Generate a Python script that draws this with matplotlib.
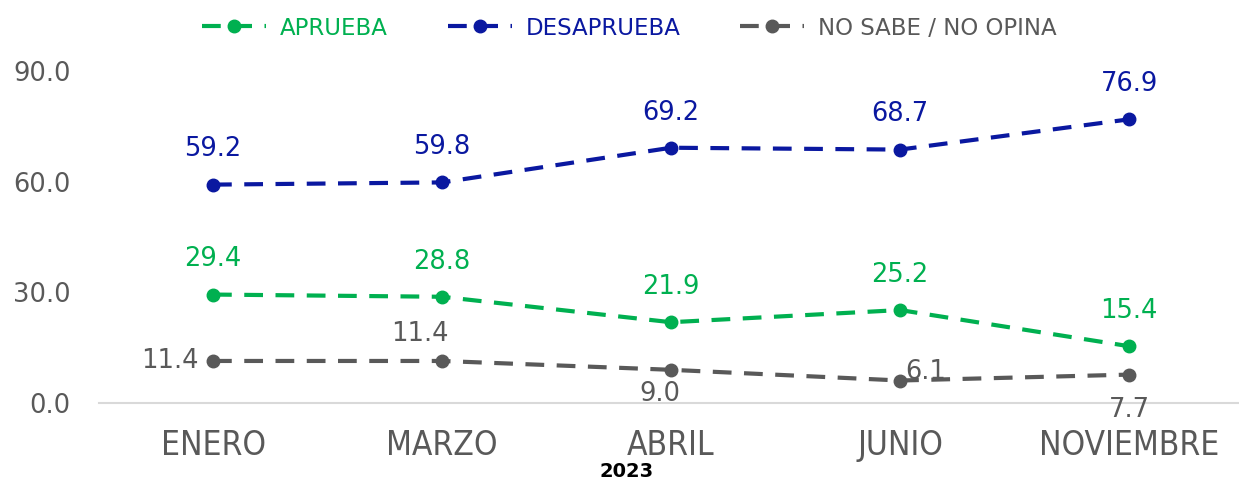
import matplotlib.pyplot as plt

# Datos de la encuesta 2023
meses = ['ENERO', 'MARZO', 'ABRIL', 'JUNIO', 'NOVIEMBRE']
aprueba = [29.4, 28.8, 21.9, 25.2, 15.4]
desaprueba = [59.2, 59.8, 69.2, 68.7, 76.9]
no_sabe = [11.4, 11.4, 9.0, 6.1, 7.7]

verde = '#00B050'
azul = '#0A18A0'
gris = '#595959'

fig = plt.figure(figsize=(12.39, 4.83), dpi=100)
ax = fig.add_axes([0.0795, 0.1656, 0.9205, 0.6874])

x = list(range(len(meses)))
estilo = dict(lw=3.0, dashes=(4.5, 3), marker='o', markersize=9)
ax.plot(x, aprueba, color=verde, label='APRUEBA', **estilo)
ax.plot(x, desaprueba, color=azul, label='DESAPRUEBA', **estilo)
ax.plot(x, no_sabe, color=gris, label='NO SABE / NO OPINA', **estilo)

# Etiquetas de valores
for i in x:
    ax.annotate(f'{aprueba[i]:.1f}', (i, aprueba[i]), xytext=(0, 16),
                textcoords='offset points', ha='center', va='bottom',
                color=verde, fontsize=18.5)
    ax.annotate(f'{desaprueba[i]:.1f}', (i, desaprueba[i]), xytext=(0, 16),
                textcoords='offset points', ha='center', va='bottom',
                color=azul, fontsize=18.5)

offsets_gris = [(-10, 0, 'right', 'center'), (-16, 10, 'center', 'bottom'),
                (-8, -8, 'center', 'top'), (4, 6, 'left', 'center'),
                (0, -16, 'center', 'top')]
for i, (dx, dy, ha, va) in enumerate(offsets_gris):
    ax.annotate(f'{no_sabe[i]:.1f}', (x[i], no_sabe[i]), xytext=(dx, dy),
                textcoords='offset points', ha=ha, va=va,
                color=gris, fontsize=18.5)

ax.set_xlim(-0.5, 4.48)
ax.set_ylim(0, 90)
ax.set_yticks([0, 30, 60, 90])
ax.set_yticklabels(['0.0', '30.0', '60.0', '90.0'])
ax.set_xticks(x)
ax.set_xticklabels(meses, fontstretch='condensed')
ax.tick_params(axis='y', length=0, labelsize=18.5, labelcolor=gris, pad=20)
ax.tick_params(axis='x', length=0, labelsize=24, labelcolor=gris, pad=19)

for lado in ['top', 'right', 'left']:
    ax.spines[lado].set_visible(False)
ax.spines['bottom'].set_color('#D9D9D9')
ax.spines['bottom'].set_linewidth(1.5)
for linea in ax.lines:
    linea.set_clip_on(False)

leg = fig.legend(*ax.get_legend_handles_labels(), loc='center',
                 bbox_to_anchor=(0.508, 0.942), ncol=3,
                 frameon=False, fontsize=16.5, handlelength=2.8,
                 columnspacing=2.6, handletextpad=0.6)
for texto, color in zip(leg.get_texts(), [verde, azul, gris]):
    texto.set_color(color)

fig.text(0.506, 0.004, '2023', ha='center', va='bottom',
         fontsize=14, fontweight='bold', color='black')

fig.savefig('out.png', dpi=100)
